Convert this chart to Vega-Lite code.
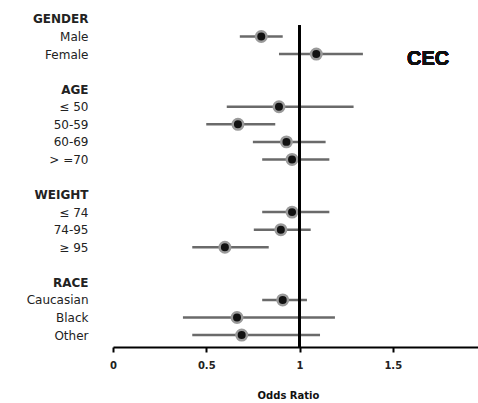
{
  "$schema": "https://vega.github.io/schema/vega-lite/v6.json",
  "width": 373,
  "height": 340,
  "autosize": {"type": "none"},
  "padding": {"left": 113, "top": 7, "right": 0, "bottom": 56},
  "background": "white",
  "config": {"view": {"stroke": null}, "font": "DejaVu Sans"},
  "data": {
    "values": [
      {"group": "GENDER", "label": "Male", "or": 0.795, "lo": 0.68, "hi": 0.91},
      {"group": "GENDER", "label": "Female", "or": 1.09, "lo": 0.89, "hi": 1.34},
      {"group": "AGE", "label": "≤ 50", "or": 0.89, "lo": 0.61, "hi": 1.29},
      {"group": "AGE", "label": "50-59", "or": 0.67, "lo": 0.5, "hi": 0.87},
      {"group": "AGE", "label": "60-69", "or": 0.93, "lo": 0.75, "hi": 1.14},
      {"group": "AGE", "label": "> =70", "or": 0.96, "lo": 0.8, "hi": 1.16},
      {"group": "WEIGHT", "label": "≤ 74", "or": 0.96, "lo": 0.8, "hi": 1.16},
      {"group": "WEIGHT", "label": "74-95", "or": 0.9, "lo": 0.755, "hi": 1.06},
      {"group": "WEIGHT", "label": "≥ 95", "or": 0.6, "lo": 0.425, "hi": 0.835},
      {"group": "RACE", "label": "Caucasian", "or": 0.91, "lo": 0.8, "hi": 1.04},
      {"group": "RACE", "label": "Black", "or": 0.665, "lo": 0.375, "hi": 1.19},
      {"group": "RACE", "label": "Other", "or": 0.69, "lo": 0.425, "hi": 1.11}
    ]
  },
  "encoding": {
    "y": {
      "field": "label",
      "type": "nominal",
      "scale": {
        "type": "point",
        "padding": 0.68,
        "domain": ["GENDER", "Male", "Female", "_1", "AGE", "≤ 50", "50-59", "60-69", "> =70", "_2", "WEIGHT", "≤ 74", "74-95", "≥ 95", "_3", "RACE", "Caucasian", "Black", "Other"]
      },
      "axis": {
        "title": null,
        "domain": false,
        "ticks": false,
        "grid": false,
        "labelPadding": 25,
        "labelFontSize": 12,
        "labelColor": "#222",
        "labelFont": "DejaVu Sans",
        "labelFontWeight": {"condition": {"test": "indexof(['GENDER','AGE','WEIGHT','RACE'], datum.value) >= 0", "value": "bold"}, "value": "normal"},
        "labelExpr": "indexof(['_1','_2','_3'], datum.value) >= 0 ? '' : datum.value"
      }
    }
  },
  "layer": [
    {
      "mark": {"type": "rule", "color": "#6a6a6a", "strokeWidth": 2.5},
      "encoding": {
        "x": {
          "field": "lo",
          "type": "quantitative",
          "scale": {"domain": [0, 2], "nice": false},
          "axis": {
            "title": "Odds Ratio",
            "values": [0, 0.5, 1, 1.5, 2],
            "labelExpr": "'' + datum.value",
            "labelFlush": false,
            "labelFontSize": 10,
            "labelFontWeight": "bold",
            "labelColor": "#222",
            "labelPadding": 8,
            "grid": false,
            "domainColor": "black",
            "domainWidth": 2,
            "tickColor": "black",
            "tickWidth": 2,
            "tickSize": 5,
            "titleFontSize": 10,
            "titleFontWeight": "bold",
            "titleColor": "#111",
            "titlePadding": 20,
            "titleX": 175
          }
        },
        "x2": {"field": "hi"}
      }
    },
    {
      "mark": {"type": "point", "shape": "circle", "filled": true, "fill": "#111", "stroke": "#9a9a9a", "strokeWidth": 2.5, "size": 110, "opacity": 1},
      "encoding": {
        "x": {"field": "or", "type": "quantitative"}
      }
    },
    {
      "mark": {"type": "rule", "color": "black", "strokeWidth": 2, "yOffset": -11, "y2Offset": 12},
      "encoding": {
        "x": {"datum": 1},
        "y": {"datum": "Male"},
        "y2": {"datum": "Other"}
      }
    },
    {
      "mark": {"type": "text", "fontSize": 20, "fontWeight": "bold", "font": "Liberation Sans", "dy": 5, "color": "#111"},
      "encoding": {
        "x": {"datum": 1.69},
        "y": {"datum": "Female"},
        "text": {"value": "CEC"}
      }
    }
  ]
}
